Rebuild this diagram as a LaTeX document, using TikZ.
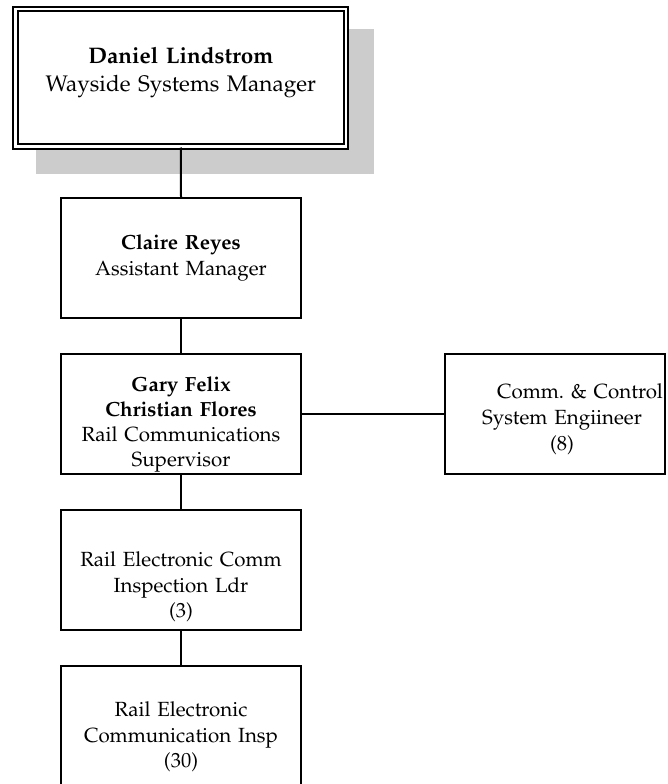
\documentclass[tikz,border=0pt]{standalone}
\usepackage[T1]{fontenc}
\usepackage{palatino}
\usepackage{tikz}
\usetikzlibrary{positioning}

\begin{document}
\begin{tikzpicture}[x=1pt,y=-1pt,
  box/.style={draw,fill=white,line width=2pt,inner sep=0pt,align=center,
    font=\fontsize{20.5}{26}\selectfont},
  topbox/.style={box,double,double distance=2.4pt,
    font=\fontsize{22.5}{28}\selectfont},
  link/.style={line width=2pt}]
\useasboundingbox (0,0) rectangle (667,784);
\fill[gray!40] (36,29) rectangle (374,174);
\node[topbox,text width=330.7pt,text height=54.5pt,text depth=83.2pt] (mgr) at (180.85,77.65)
  {\textbf{Daniel Lindstrom}\\Wayside Systems Manager};
\node[box,text width=240pt,text height=51pt,text depth=69pt] (asst) at (181,258)
  {\textbf{Claire Reyes}\\Assistant Manager};
\node[box,text width=240pt,text height=37pt,text depth=83pt,
  font=\fontsize{20.5}{25.3}\selectfont] (sup) at (181,414)
  {\textbf{Gary Felix}\\\textbf{Christian Flores}\\Rail Communications\\Supervisor};
\node[box,text width=220pt,text height=44.5pt,text depth=75.5pt] (eng) at (555,414)
  {\mbox{\hspace*{50pt}Comm.\ \& Control}\\\hspace*{14pt}System Engiineer\\\hspace*{14pt}(8)};
\node[box,text width=240pt,text height=57pt,text depth=63pt,
  font=\fontsize{20.5}{25.5}\selectfont] (ldr) at (181,569.5)
  {Rail Electronic Comm\\Inspection Ldr\\(3)};
\node[box,text width=240pt,text height=50.5pt,text depth=69.5pt,
  font=\fontsize{20.5}{25.5}\selectfont] (insp) at (181,726)
  {Rail Electronic\\Communication Insp\\(30)};
\draw[link] (mgr.south) -- (asst.north);
\draw[link] (asst.south) -- (sup.north);
\draw[link] (sup.east) -- (eng.west);
\draw[link] (sup.south) -- (ldr.north);
\draw[link] (ldr.south) -- (insp.north);
\end{tikzpicture}
\end{document}
